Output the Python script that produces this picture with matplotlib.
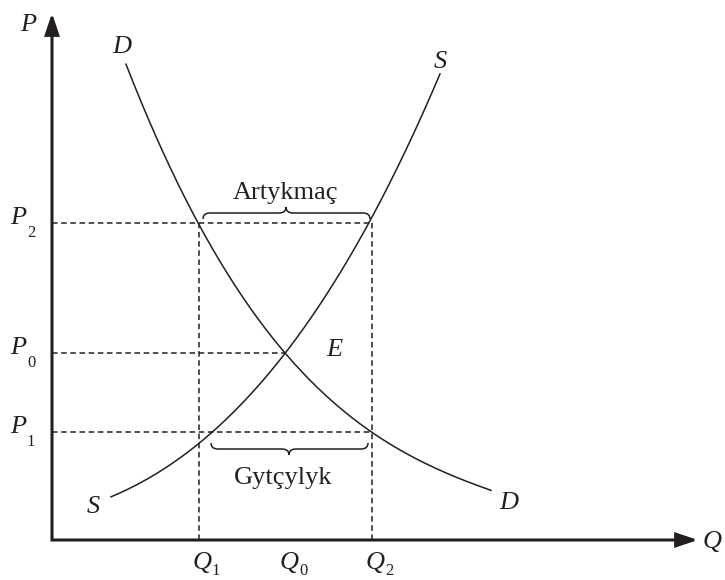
import matplotlib
matplotlib.use("Agg")
import matplotlib.pyplot as plt
import numpy as np
from matplotlib.path import Path
from matplotlib.patches import PathPatch

plt.rcParams['font.family'] = ['Liberation Serif', 'DejaVu Serif']
plt.rcParams['lines.scale_dashes'] = False

# values (units = pixels from the origin)
q_vals = [147, 234, 320]            # Q1, Q0, Q2
q_subs = ['1', '0', '2']
p_vals = [317, 187, 108]            # P2, P0, P1
p_subs = ['2', '0', '1']

demand_q = [74, 108, 147, 189, 234, 272, 316, 365, 439]
demand_p = [477, 392, 317, 244, 187, 147, 110, 80, 50]
supply_q = [59, 98, 128, 147, 161, 234, 272, 318, 351, 388]
supply_p = [43, 63, 82, 97, 108, 187, 244, 317, 385, 466]

surplus_text = "Artykmaç"
shortage_text = "Gytçylyk"

ink = '#231f20'

fig = plt.figure(figsize=(7.25, 5.8), dpi=100)
ax = fig.add_axes([0, 0, 1, 1])
ax.set_xlim(-52, 673)
ax.set_ylim(-40, 540)
ax.axis('off')

# axes: one polyline plus two arrow heads
ax.plot([0, 0, 630], [510, 0, 0], color=ink, lw=2.2, solid_joinstyle='miter', snap=False)
arr = dict(arrowstyle='-|>,head_length=0.9,head_width=0.3', lw=2.2, color=ink,
           shrinkA=0, shrinkB=0, mutation_scale=14, joinstyle='miter')
ax.annotate('', xy=(0, 527), xytext=(0, 505), arrowprops=arr)
ax.annotate('', xy=(646, 0), xytext=(625, 0), arrowprops=arr)

# curves
dc = np.polyfit(demand_q, demand_p, 3)
sc = np.polyfit(supply_q, supply_p, 3)
xd = np.linspace(demand_q[0], demand_q[-1], 300)
xs = np.linspace(supply_q[0], supply_q[-1], 300)
ax.plot(xd, np.polyval(dc, xd), color=ink, lw=1.1)
ax.plot(xs, np.polyval(sc, xs), color=ink, lw=1.1)

# dashed guides
dash = dict(color=ink, lw=1.1, dashes=(4.0, 2.6))
Q1, Q0, Q2 = q_vals
P2, P0, P1 = p_vals
ax.plot([0, Q2], [P2, P2], **dash)
ax.plot([0, Q0], [P0, P0], **dash)
ax.plot([0, Q2], [P1, P1], **dash)
ax.plot([Q1, Q1], [0, P2], **dash)
ax.plot([Q2, Q2], [0, P2], **dash)


def brace(x0, x1, y0, h, xm):
    r = 7
    ym = y0 + h / 2
    verts = [(x0, y0), (x0, ym), (x0 + r, ym), (xm - r, ym),
             (xm, ym), (xm, y0 + h), (xm, ym), (xm + r, ym),
             (x1 - r, ym), (x1, ym), (x1, y0)]
    codes = [Path.MOVETO, Path.CURVE3, Path.CURVE3, Path.LINETO,
             Path.CURVE3, Path.CURVE3, Path.CURVE3, Path.CURVE3,
             Path.LINETO, Path.CURVE3, Path.CURVE3]
    ax.add_patch(PathPatch(Path(verts, codes), fill=False, lw=1.1, color=ink))


brace(151, 318, 321, 12, 234)
brace(159, 316, 97, -12, 237)

ax.text(233, 347, surplus_text, fontsize=19, ha='center', va='center', color=ink)
ax.text(231, 62, shortage_text, fontsize=19, ha='center', va='center', color=ink)

ital = dict(fontsize=19, style='italic', ha='center', va='center', color=ink)
ax.text(-24, 515, 'P', **ital)
ax.text(651, -2, 'Q', fontsize=19, style='italic', ha='left', va='center', color=ink)
ax.text(70, 493, 'D', **ital)
ax.text(457, 37, 'D', **ital)
ax.text(388, 478, 'S', **ital)
ax.text(41, 33, 'S', **ital)
ax.text(282, 190, 'E', **ital)

for p, s in zip(p_vals, p_subs):
    ax.text(-34, p + 5, 'P', **ital)
    ax.text(-21, p - 10, s, fontsize=12, ha='center', va='center', color=ink)
for q, s in zip(q_vals, q_subs):
    ax.text(q + 3, -23, 'Q', **ital)
    ax.text(q + 17, -31, s, fontsize=12, ha='center', va='center', color=ink)

fig.savefig('out.png', dpi=100)
